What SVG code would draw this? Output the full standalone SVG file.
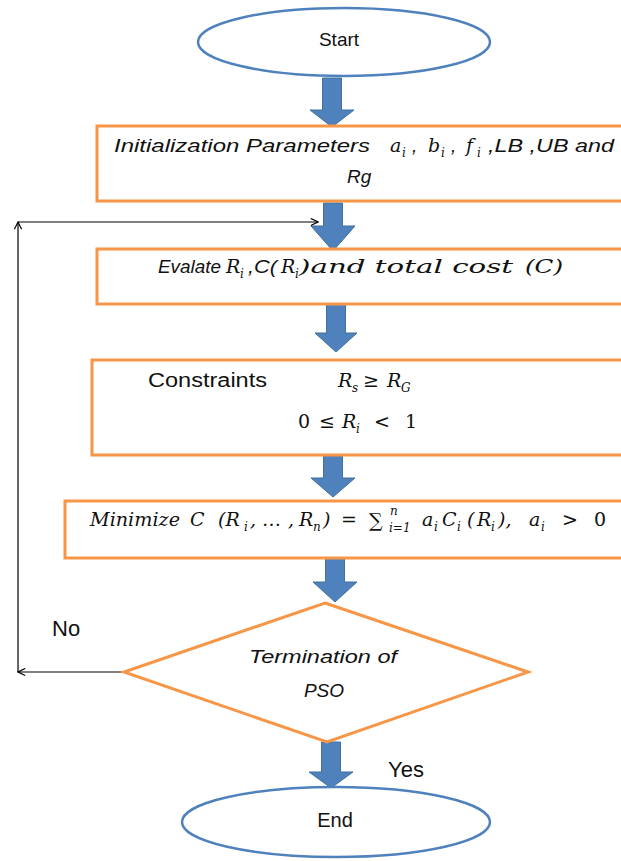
<svg xmlns="http://www.w3.org/2000/svg" width="621" height="861" viewBox="0 0 621 861">
<style>
.box{fill:#fff;stroke:#F79646;stroke-width:3}
.term{fill:#fff;stroke:#4F81BD;stroke-width:2.5}
.barrow{fill:#4F81BD;stroke:#41719C;stroke-width:1}
.conn{fill:none;stroke:#000;stroke-width:1.2}
.sans{font-family:"Liberation Sans",Arial,sans-serif;fill:#111}
.it{font-family:"Liberation Sans",Arial,sans-serif;font-style:italic;fill:#111;font-size:19px}
.m{font-family:"DejaVu Serif",serif;font-style:italic;fill:#111;font-size:19px}
.mr{font-family:"DejaVu Serif",serif;fill:#111;font-size:19px}
.sub{font-family:"DejaVu Serif",serif;font-style:italic;fill:#111;font-size:12px}
</style>
<defs>
<marker id="open" viewBox="0 0 10 10" refX="9" refY="5" markerWidth="9" markerHeight="9" markerUnits="userSpaceOnUse" orient="auto">
<path d="M1,1 L9,5 L1,9" fill="none" stroke="#000" stroke-width="1.3"/>
</marker>
</defs>

<g id="connectors">
<polygon class="barrow" points="322.5,78 341.5,78 341.5,110 354,110 332,127 310,110 322.5,110"/>
<polygon class="barrow" points="323.5,203 342.5,203 342.5,226 355,226 333,251 311,226 323.5,226"/>
<polygon class="barrow" points="326.5,304 345.5,304 345.5,333 357,333 336,352 315,333 326.5,333"/>
<polygon class="barrow" points="323.5,455 342.5,455 342.5,478 355,478 333,497 311,478 323.5,478"/>
<polygon class="barrow" points="325.5,558 344.5,558 344.5,582 357,582 335,602 313,582 325.5,582"/>
<polygon class="barrow" points="321.5,742 340.5,742 340.5,772 353,772 331,788 309,772 321.5,772"/>
<line class="conn" x1="124" y1="672" x2="18" y2="672" marker-end="url(#open)"/>
<line class="conn" x1="18" y1="672" x2="18" y2="222" marker-end="url(#open)"/>
<line class="conn" x1="18" y1="222" x2="318" y2="222" marker-end="url(#open)"/>
<text class="sans" x="52" y="636" font-size="22">No</text>
<text class="sans" x="388" y="777" font-size="22">Yes</text>
</g>

<g id="start">
<ellipse class="term" cx="344" cy="42" rx="146" ry="34"/>
<text class="sans" x="339" y="46" font-size="19" text-anchor="middle">Start</text>
</g>

<g id="init">
<rect class="box" x="97" y="126" width="560" height="75"/>
<text class="it" x="114" y="152" textLength="256" lengthAdjust="spacingAndGlyphs">Initialization Parameters</text>
<text class="m" x="390" y="152">a</text><text class="sub" x="402" y="157">i</text><text class="it" x="412" y="152">,</text>
<text class="m" x="428" y="152">b</text><text class="sub" x="441" y="157">i</text><text class="it" x="451" y="152">,</text>
<text class="m" x="466" y="152">f</text><text class="sub" x="477" y="157">i</text>
<text class="it" x="488" y="152" textLength="126" lengthAdjust="spacingAndGlyphs">,LB ,UB and</text>
<text class="it" x="347" y="183">Rg</text>
</g>

<g id="evaluate">
<rect class="box" x="97" y="249" width="560" height="55"/>
<text class="it" x="158" y="273" font-size="20" textLength="63" lengthAdjust="spacingAndGlyphs">Evalate</text>
<text class="m" x="226" y="273">R</text><text class="sub" x="240" y="278">i</text>
<text class="it" x="248" y="273" font-size="20" textLength="29" lengthAdjust="spacingAndGlyphs">,C(</text>
<text class="m" x="281" y="273">R</text><text class="sub" x="295" y="278">i</text>
<text class="m" x="299" y="273" font-size="22" textLength="214" lengthAdjust="spacingAndGlyphs">)and total cost</text>
<text class="m" x="525" y="273" font-size="21" textLength="38" lengthAdjust="spacingAndGlyphs">(C)</text>
</g>

<g id="constraints">
<rect class="box" x="92" y="360" width="560" height="95"/>
<text class="sans" x="148" y="387" font-size="20" textLength="119" lengthAdjust="spacingAndGlyphs">Constraints</text>
<text class="m" x="338" y="387">R</text><text class="sub" x="352" y="392">s</text>
<text class="mr" x="363" y="387">≥</text>
<text class="m" x="387" y="387">R</text><text class="sub" x="401" y="392">G</text>
<text class="mr" x="298" y="428">0</text>
<text class="mr" x="319" y="428">≤</text>
<text class="m" x="342" y="428">R</text><text class="sub" x="356" y="433">i</text>
<text class="mr" x="374" y="428">&lt;</text>
<text class="mr" x="405" y="428">1</text>
</g>

<g id="minimize">
<rect class="box" x="65" y="501" width="600" height="57"/>
<text class="m" x="90" y="526" font-size="20" textLength="90" lengthAdjust="spacingAndGlyphs">Minimize</text>
<text class="m" x="190" y="526">C</text>
<text class="m" x="218" y="526">(R</text><text class="sub" x="244" y="531">i</text>
<text class="m" x="250" y="526">,</text>
<text class="m" x="262" y="526">…</text>
<text class="m" x="288" y="526">,</text>
<text class="m" x="299" y="526">R</text><text class="sub" x="313" y="531">n</text>
<text class="m" x="323" y="526">)</text>
<text class="mr" x="341" y="526">=</text>
<text class="mr" x="369" y="527" font-size="21">∑</text>
<text class="sub" x="390" y="515">n</text>
<text class="sub" x="389" y="532" font-style="normal">i=1</text>
<text class="m" x="422" y="526">a</text><text class="sub" x="434" y="531">i</text>
<text class="m" x="442" y="526">C</text><text class="sub" x="457" y="531">i</text>
<text class="m" x="467" y="526">(</text>
<text class="m" x="477" y="526">R</text><text class="sub" x="491" y="531">i</text>
<text class="m" x="498" y="526">),</text>
<text class="m" x="529" y="526">a</text><text class="sub" x="541" y="531">i</text>
<text class="mr" x="562" y="526">&gt;</text>
<text class="mr" x="594" y="526">0</text>
</g>

<g id="termination">
<polygon class="box" points="325,603 528,672 327,742 124,672" stroke-width="2.5"/>
<text class="it" x="249" y="663" font-size="20" textLength="148" lengthAdjust="spacingAndGlyphs">Termination of</text>
<text class="it" x="324" y="697" font-size="20" text-anchor="middle">PSO</text>
</g>

<g id="end">
<ellipse class="term" cx="336" cy="822" rx="154" ry="35"/>
<text class="sans" x="335" y="827" font-size="20" text-anchor="middle">End</text>
</g>
</svg>
